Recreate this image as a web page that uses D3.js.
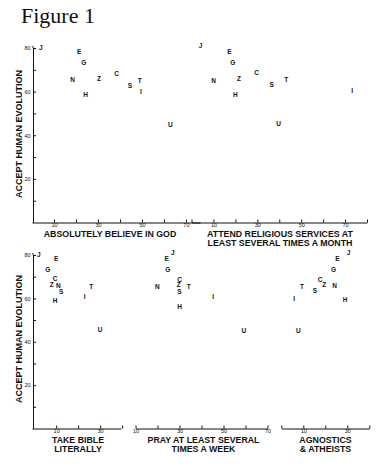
<!DOCTYPE html>
<html>
<head>
<meta charset="utf-8">
<script src="https://cdn.jsdelivr.net/npm/d3@7/dist/d3.min.js"></script>
<style>
  html, body { margin: 0; padding: 0; background: #fff; }
  svg { display: block; }
  .lbl { font-family: "Liberation Sans", Arial, sans-serif; font-weight: bold; fill: #111; }
  .tick text { font-family: "Liberation Sans", Arial, sans-serif; font-size: 5.5px; fill: #111; }
  .domain, .tick line { stroke: #111; stroke-width: 1; }
</style>
</head>
<body>
<svg id="chart" width="392" height="464"></svg>
<script>
// Country codes (same order in every panel)
const countries = ["J", "E", "G", "C", "Z", "N", "T", "S", "I", "H", "U"];

// x values (percent) per panel
const believeGod = [4, 21.5, 23.6, 38.5, 30.5, 18.5, 49, 44.5, 49.5, 24.4, 62.9];
const attendServices = [4.1, 17.3, 18.8, 29.7, 21.7, 10.1, 43.2, 36.5, 73.2, 20, 39.7];
const bibleLiterally = [2.1, 10, 6.2, 9.5, 8, 11, 26, 12.3, 23, 9.5, 30];
const prayWeekly = [27, 24.2, 24.7, 30, 29.7, 19.9, 34.2, 30, 45.3, 30, 59.2];
const agnosticsAtheists = [30.6, 25.5, 23.7, 17.6, 19.5, 24.2, 9.4, 15.3, 5.9, 29, 7.8];

// y values: accept human evolution (percent), as plotted in each panel
const acceptGod = [80.2, 78.1, 73.2, 68.3, 65.8, 65.4, 64.9, 62.6, 60.1, 58.5, 44.8];
const acceptAttend = [81, 78.5, 73.5, 68.5, 66, 65.2, 65.6, 63, 60.6, 58.7, 45.2];
const acceptBible = [80.3, 78.3, 73.1, 68.9, 66.1, 65.7, 65.5, 63, 60.6, 59.1, 45.4];
const acceptPray = [81.3, 78.3, 73.2, 68.8, 66.1, 65.6, 65.2, 63.1, 60.7, 56.2, 45.3];
const acceptAgnostic = [81.3, 78.5, 73.3, 68.4, 66.2, 66, 65.4, 63.4, 60, 59.3, 45.3];

// tick labels
const yTickLabels = [20, 40, 60, 80];
const yTicks = [10, 20, 30, 40, 50, 60, 70, 80];

const svg = d3.select("#chart");

// Title
svg.append("text")
  .attr("x", 21).attr("y", 22.5)
  .attr("font-family", "'Liberation Serif', 'Times New Roman', serif")
  .attr("font-size", 22)
  .attr("fill", "#111")
  .text("Figure 1");

const panels = [
  { xs: believeGod, ys: acceptGod, xDomain: [0, 76.4], xRange: [32, 200], row: 0,
    ticks: [10, 20, 30, 40, 50, 60, 70], labels: [10, 30, 50, 70],
    title: ["ABSOLUTELY BELIEVE IN GOD"], cx: 110, yAxis: true },
  { xs: attendServices, ys: acceptAttend, xDomain: [0, 80], xRange: [191.5, 367], row: 0,
    ticks: [0, 10, 20, 30, 40, 50, 60, 70, 80], labels: [10, 30, 50, 70],
    title: ["ATTEND RELIGIOUS SERVICES AT", "LEAST SEVERAL TIMES A MONTH"], cx: 280 },
  { xs: bibleLiterally, ys: acceptBible, xDomain: [-1, 39.5], xRange: [32, 121], row: 1,
    ticks: [10, 20, 30, 40], labels: [10, 30],
    title: ["TAKE BIBLE", "LITERALLY"], cx: 78, yAxis: true },
  { xs: prayWeekly, ys: acceptPray, xDomain: [10, 70], xRange: [135.5, 267.5], row: 1,
    ticks: [10, 20, 30, 40, 50, 60, 70], labels: [10, 30, 50, 70],
    title: ["PRAY AT LEAST SEVERAL", "TIMES A WEEK"], cx: 203.5 },
  { xs: agnosticsAtheists, ys: acceptAgnostic, xDomain: [0, 40], xRange: [281.3, 369.3], row: 1,
    ticks: [0, 10, 20, 30, 40], labels: [10, 30],
    title: ["AGNOSTICS", "& ATHEISTS"], cx: 325.5 }
];

const rows = [
  { y0: 222.5, y80: 48, top: 46, titleY: 234, yLabelY: 134 },
  { y0: 428.5, y80: 255, top: 253, titleY: 439.5, yLabelY: 339 }
];

panels.forEach(p => {
  const r = rows[p.row];
  const x = d3.scaleLinear().domain(p.xDomain).range(p.xRange);
  const y = d3.scaleLinear().domain([0, 80]).range([r.y0, r.y80]);
  const g = svg.append("g");

  // x axis
  const xAxis = d3.axisBottom(x)
    .tickValues(p.ticks)
    .tickSizeInner(-3)
    .tickSizeOuter(0)
    .tickPadding(1)
    .tickFormat(d => p.labels.includes(d) ? d : "");
  g.append("g").attr("transform", `translate(0,${r.y0})`).call(xAxis);

  // y axis
  if (p.yAxis) {
    const yAxis = d3.axisLeft(y)
      .tickValues(yTicks)
      .tickSizeInner(-3)
      .tickSizeOuter(0)
      .tickPadding(2.5)
      .tickFormat(d => yTickLabels.includes(d) ? d : "");
    const ya = g.append("g").attr("transform", `translate(${p.xRange[0] + 1},0)`).call(yAxis);
    ya.append("line").attr("x1", 0).attr("x2", 0).attr("y1", r.y80).attr("y2", r.top)
      .attr("stroke", "#111");
    g.append("text").attr("class", "lbl")
      .attr("font-size", 9)
      .attr("text-anchor", "middle")
      .attr("transform", `translate(21.5,${r.yLabelY}) rotate(-90)`)
      .text("ACCEPT HUMAN EVOLUTION");
  }

  // x axis title
  p.title.forEach((t, i) => {
    g.append("text").attr("class", "lbl")
      .attr("font-size", 8.8)
      .attr("text-anchor", "middle")
      .attr("x", p.cx)
      .attr("y", r.titleY + i * 9.3)
      .attr("dy", "0.35em")
      .text(t);
  });

  // points (country letters)
  g.selectAll("text.pt")
    .data(countries.map((c, i) => ({ c, xv: p.xs[i], yv: p.ys[i] })))
    .join("text")
    .attr("class", "lbl pt")
    .attr("font-size", 6.5)
    .attr("text-anchor", "middle")
    .attr("x", d => x(d.xv))
    .attr("y", d => y(d.yv))
    .attr("dy", "0.36em")
    .text(d => d.c);
});
</script>
</body>
</html>
